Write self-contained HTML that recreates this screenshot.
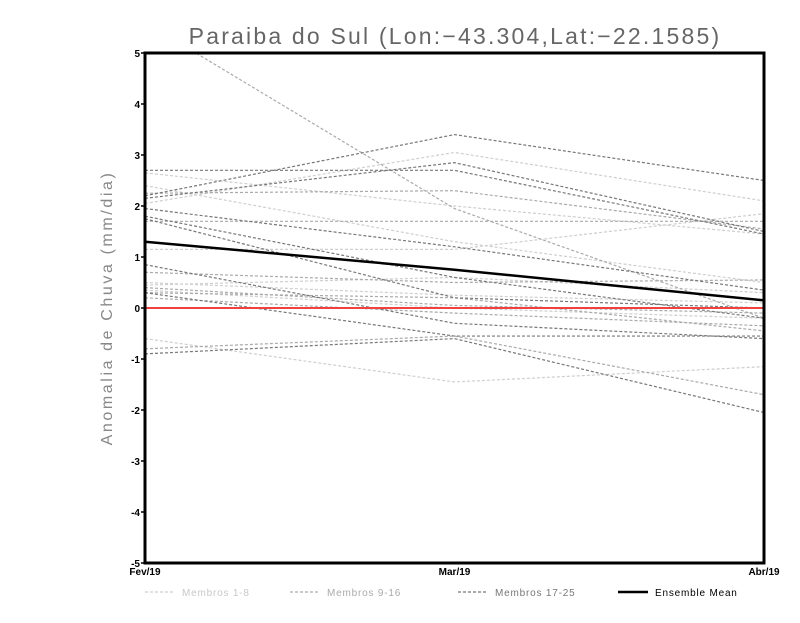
<!DOCTYPE html>
<html><head><meta charset="utf-8"><style>
body{margin:0;background:#fff;width:800px;height:618px;overflow:hidden;font-family:"Liberation Sans",sans-serif}
</style></head><body>
<svg id="chart" width="800" height="618" xmlns="http://www.w3.org/2000/svg">
<text x="455" y="44" text-anchor="middle" font-size="23" fill="#666" letter-spacing="2.2">Paraiba do Sul (Lon:−43.304,Lat:−22.1585)</text>
<text transform="translate(112,308) rotate(-90)" text-anchor="middle" font-size="16" fill="#888" letter-spacing="2.6">Anomalia de Chuva (mm/dia)</text>
<g id="plot"></g>
</svg>
<script>
const categories=["Fev/19","Mar/19","Abr/19"];
const yTicks=[5,4,3,2,1,0,-1,-2,-3,-4,-5];
const group1=[[2.05,3.05,2.1],[2.65,2.0,1.45],[2.4,1.3,0.5],[1.15,1.15,1.85],[0.5,0.25,0.1],[0.45,0.6,0.3],[0.35,0.0,-0.2],[-0.6,-1.45,-1.15]];
const group2=[[5.6,1.95,-0.2],[1.7,1.7,1.7],[0.7,0.5,0.55],[0.4,0.05,-0.1],[0.3,0.2,-0.45],[2.25,2.3,1.55],[-0.8,-0.55,-1.7],[0.2,-0.1,-0.35]];
const group3=[[2.2,3.4,2.5],[2.15,2.85,1.5],[2.7,2.7,1.45],[1.95,1.2,0.35],[1.8,0.6,-0.2],[0.85,-0.3,-0.6],[0.3,-0.55,-0.55],[-0.9,-0.6,-2.05],[1.75,0.2,0.0]];
const meanSeries=[1.3,0.75,0.15];
const X0=145,X1=764,Y0=53,Y1=563;
const xs=i=>X0+(X1-X0)*i/(categories.length-1);
const ys=v=>Y1-(v+5)/10*(Y1-Y0);
const ns="http://www.w3.org/2000/svg";
const plot=document.getElementById('plot');
function mk(t,a){const e=document.createElementNS(ns,t);for(const k in a)e.setAttribute(k,a[k]);plot.appendChild(e);return e;}
const cp=mk('clipPath',{id:'cp'});
const cr=document.createElementNS(ns,'rect');cp.appendChild(cr);
cr.setAttribute('x',X0);cr.setAttribute('y',Y0);cr.setAttribute('width',X1-X0);cr.setAttribute('height',Y1-Y0);
function line(vals,color,w,dash,name){
 const p=mk('polyline',{points:vals.map((v,i)=>xs(i)+','+ys(v)).join(' '),fill:'none',stroke:color,'stroke-width':w,'clip-path':'url(#cp)'});
 if(dash)p.setAttribute('stroke-dasharray',dash);
 
 
}
group1.forEach(s=>line(s,'#cfcfcf',1.2,'3,2','member-1-8-line'));
group2.forEach(s=>line(s,'#aaaaaa',1.2,'3,2','member-9-16-line'));
group3.forEach(s=>line(s,'#777777',1.2,'3,2','member-17-25-line'));
const z=mk('line',{x1:X0,x2:X1,y1:ys(0),y2:ys(0),stroke:'#f04040','stroke-width':2});


line(meanSeries,'#000',2.5,null,'ensemble-mean-line');
const fr=mk('rect',{x:X0,y:Y0,width:X1-X0,height:Y1-Y0,fill:'none',stroke:'#000','stroke-width':3});


yTicks.forEach(v=>{
 const t=mk('text',{x:X0-5,y:ys(v)+4,'text-anchor':'end','font-size':10,'font-weight':'bold'});t.textContent=v;
 
 
 mk('line',{x1:X0-4,x2:X0,y1:ys(v),y2:ys(v),stroke:'#000','stroke-width':1.5});
});
categories.forEach((c,i)=>{
 const t=mk('text',{x:xs(i),y:Y1+12,'text-anchor':'middle','font-size':10,'font-weight':'bold'});t.textContent=c;
 
 
});
const legend=[["Membros 1-8","#cfcfcf",1.2,'3,2',145],["Membros 9-16","#aaaaaa",1.2,'3,2',290],["Membros 17-25","#777777",1.2,'3,2',458],["Ensemble Mean","#000",2.5,null,618]];
legend.forEach(l=>{
 const g=mk('line',{x1:l[4],x2:l[4]+30,y1:592,y2:592,stroke:l[1],'stroke-width':l[2]});if(l[3])g.setAttribute('stroke-dasharray',l[3]);
 
 
 const t=mk('text',{x:l[4]+37,y:596,'font-size':10,'letter-spacing':0.8,fill:l[1]==='#000'?'#000':l[1]==='#cfcfcf'?'#c8c8c8':l[1]});t.textContent=l[0];
 
 
});
</script>
</body></html>
